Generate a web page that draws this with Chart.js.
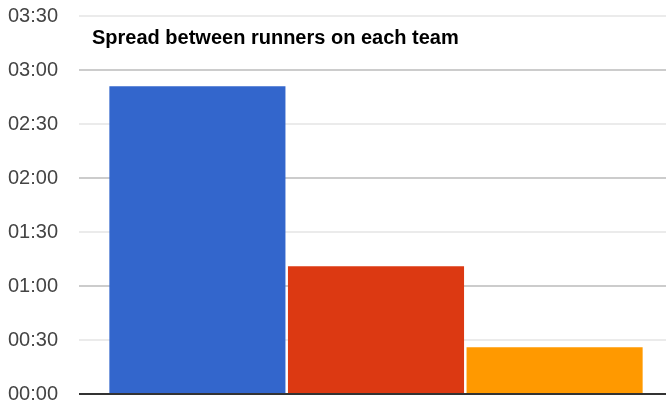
<!DOCTYPE html>
<html>
<head>
<meta charset="utf-8">
<script src="https://cdn.jsdelivr.net/npm/chart.js@4"></script>
<style>
  html, body { margin: 0; padding: 0; background: #fff; overflow: hidden; }
</style>
</head>
<body>
<canvas id="myChart" width="673" height="404"></canvas>
<script>
// data, spread in seconds
const categories = [''];
const teams = ['Team A', 'Team B', 'Team C'];
const spreadSeconds = [171, 71, 26];
const teamColors = ['#3366cc', '#dc3912', '#ff9900'];
const chartTitle = 'Spread between runners on each team';

const fmt = (s) => {
  const m = Math.floor(s / 60), sec = s % 60;
  return String(m).padStart(2, '0') + ':' + String(sec).padStart(2, '0');
};

// title sits inside the plot area like the original
const innerTitle = {
  id: 'innerTitle',
  afterDraw(chart) {
    const { ctx, chartArea } = chart;
    ctx.save();
    ctx.font = 'bold 20px "Liberation Sans", Arial, sans-serif';
    ctx.fillStyle = '#000';
    ctx.textBaseline = 'alphabetic';
    ctx.fillText(chartTitle, chartArea.left + 13, chartArea.top + 28);
    ctx.restore();
  }
};

new Chart(document.getElementById('myChart'), {
  type: 'bar',
  data: {
    labels: categories,
    datasets: teams.map((t, i) => ({
      label: t,
      data: [spreadSeconds[i]],
      backgroundColor: teamColors[i],
      categoryPercentage: 0.902,
      barPercentage: 0.986,
    })),
  },
  options: {
    responsive: false,
    animation: false,
    layout: { padding: { top: 16, bottom: 10, left: 0, right: 0 } },
    plugins: { legend: { display: false }, tooltip: { enabled: false } },
    scales: {
      x: { display: false },
      y: {
        min: 0,
        max: 210,
        afterFit: (scale) => {
          scale.width = 79;
          scale.paddingTop = 0;
          scale.paddingBottom = 0;
        },
        border: { display: false },
        grid: {
          drawTicks: false,
          color: (c) => c.tick.value === 0 ? '#333' : (c.tick.value % 60 === 0 ? '#cccccc' : '#ebebeb'),
          lineWidth: 2,
        },
        ticks: {
          stepSize: 30,
          padding: 21,
          color: '#444',
          font: { family: '"Liberation Sans", Arial, sans-serif', size: 20, lineHeight: 1 },
          callback: (v) => fmt(v),
        },
      },
    },
  },
  plugins: [innerTitle],
});
</script>
</body>
</html>
